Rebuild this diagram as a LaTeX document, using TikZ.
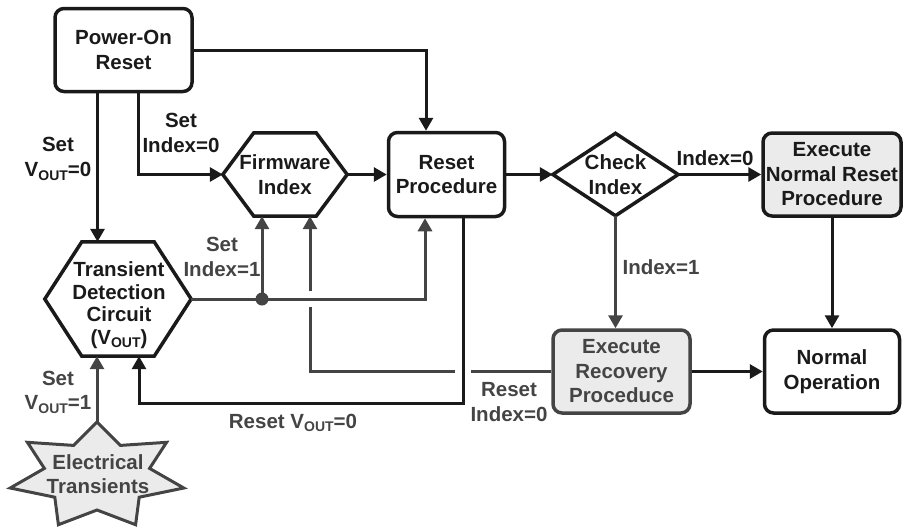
\documentclass[tikz,border=0pt]{standalone}
\usepackage{fontspec}
\setmainfont{Liberation Sans}
\usetikzlibrary{arrows.meta,calc}
\definecolor{ink}{HTML}{1A1A1A}
\definecolor{gink}{HTML}{444444}
\definecolor{boxfill}{HTML}{EBEBEB}
\newcommand\vout{V\raisebox{-0.35ex}{\fontsize{14}{14}\selectfont OUT}}
\begin{document}
\begin{tikzpicture}[x=1pt,y=-1pt,
  font=\fontsize{20.5}{24.5}\selectfont\bfseries,
  box/.style={draw=ink, line width=3.5pt, rounded corners=9pt, align=center, inner sep=0pt, text=ink},
  gbox/.style={box, draw=gink, fill=boxfill, text=gink},
  shapebox/.style={inner sep=0pt, align=center, text=ink},
  outline/.style={draw=ink, line width=3.5pt},
  conn/.style={draw=ink, line width=3pt, -{Triangle[length=13pt,width=14pt]}},
  gconn/.style={draw=gink, line width=3pt, -{Triangle[length=13pt,width=14pt]}},
  gplain/.style={draw=gink, line width=3pt},
  lbl/.style={align=center, inner sep=0pt, text=ink},
  glbl/.style={lbl, text=gink}]
\useasboundingbox (0,0) rectangle (904,531);

% boxes
\node[box, minimum width=137pt, minimum height=83pt] (por) at (123.5,50) {Power-On\\Reset};
\node[box, minimum width=116pt, minimum height=84pt] (rp) at (446.5,174.5) {Reset\\Procedure};
\node[box, fill=boxfill, minimum width=138pt, minimum height=83pt] (en) at (832,174.5) {Execute\\Normal Reset\\Procedure};
\node[box, minimum width=135pt, minimum height=83pt] (no) at (832,371.5) {Normal\\Operation};
\node[gbox, minimum width=137pt, minimum height=83pt] (rec) at (621.5,371.5) {Execute\\Recovery\\Proceduce};

% firmware hexagon
\node[shapebox, minimum width=124pt, minimum height=83pt] (fw) at (285,174.5) {Firmware\\Index};
\draw[outline] (fw.west) -- ([xshift=31]fw.north west) -- ([xshift=-31]fw.north east) -- (fw.east)
  -- ([xshift=-31]fw.south east) -- ([xshift=31]fw.south west) -- cycle;

% check diamond
\node[shapebox, minimum width=125pt, minimum height=82pt] (ci) at (615.5,174.5) {Check\\Index};
\draw[outline] (ci.west) -- (ci.north) -- (ci.east) -- (ci.south) -- cycle;

% transient detection hexagon
\node[inner sep=0pt, minimum width=146pt, minimum height=114pt] (tdc) at (118,299) {};
\draw[outline] (tdc.west) -- ([xshift=37]tdc.north west) -- ([xshift=-37]tdc.north east) -- (tdc.east)
  -- ([xshift=-37]tdc.south east) -- ([xshift=37]tdc.south west) -- cycle;
\node[lbl, font=\fontsize{20.5}{22.5}\selectfont\bfseries] (tdct) at (119,305) {Transient\\Detection\\Circuit\\(\vout)};

% star
\draw[draw=gink, fill=boxfill, line width=3pt]
  (97,422) -- (120.4,445.4) -- (166.6,442.3) -- (149.6,468.4) -- (183.8,488) -- (139.2,497.2)
  -- (135.6,524.7) -- (97,510) -- (58.4,524.7) -- (54.8,497.2) -- (10.2,488) -- (44.4,468.4)
  -- (27.4,442.3) -- (73.6,445.4) -- cycle;
\coordinate (startop) at (97,422);
\node[glbl] (et) at (98,474) {Electrical\\Transients};

% connectors
\draw[conn] (por.east) -| ([xshift=-20.5]rp.north);
\coordinate (porA) at ([xshift=-26]por.south);
\draw[conn] (porA) -- (porA |- tdc.north);
\coordinate (porB) at ([xshift=14.5]por.south);
\draw[conn] (porB) |- (fw.west);
\draw[conn] (fw.east) -- (rp.west);
\draw[conn] (rp.east) -- (ci.west);
\draw[conn] (ci.east) -- (en.west);
\draw[gconn] (ci.south) -- (ci.south |- rec.north);
\draw[conn] (en.south) -- (no.north);
\draw[conn] (rec.east) -- (no.west);

\coordinate (rpA) at ([xshift=-21.5]rp.south);
\draw[gconn] (tdc.east) -| (rpA);
\coordinate (fwA) at ([xshift=-23]fw.south);
\coordinate (dot) at (fwA |- tdc.east);
\fill[gink] (dot) circle (6.5pt);
\draw[gconn] (dot) -- (fwA);

\coordinate (fwB) at ([xshift=25]fw.south);
\coordinate (rpB) at ([xshift=16.5]rp.south);
\coordinate (x1) at (rpB |- rec.west);
\coordinate (x2) at (fwB |- tdc.east);
\draw[gplain] (rec.west) -- ([xshift=8]x1);
\draw[gplain] ([xshift=-8]x1) -| ([yshift=-8]x2);
\draw[gconn] ([yshift=8]x2) -- (fwB);

\coordinate (tdcB) at ([xshift=21]tdc.south);
\draw[conn] (rpB) -- ++(0,185) -| (tdcB);
\coordinate (tdcA) at ([xshift=-21]tdc.south);
\draw[gconn] (startop) -- (tdcA);

% labels
\node[lbl] at (58,159) {Set\\\vout=0};
\node[lbl] at (181,133) {Set\\Index=0};
\node[glbl] at (222,257) {Set\\Index=1};
\node[glbl] at (58,392.5) {Set\\\vout=1};
\node[glbl] at (293,423) {Reset \vout=0};
\node[glbl] at (509,402) {Reset\\Index=0};
\node[glbl] at (661,267) {Index=1};
\node[lbl] at (715,158) {Index=0};
\end{tikzpicture}
\end{document}
